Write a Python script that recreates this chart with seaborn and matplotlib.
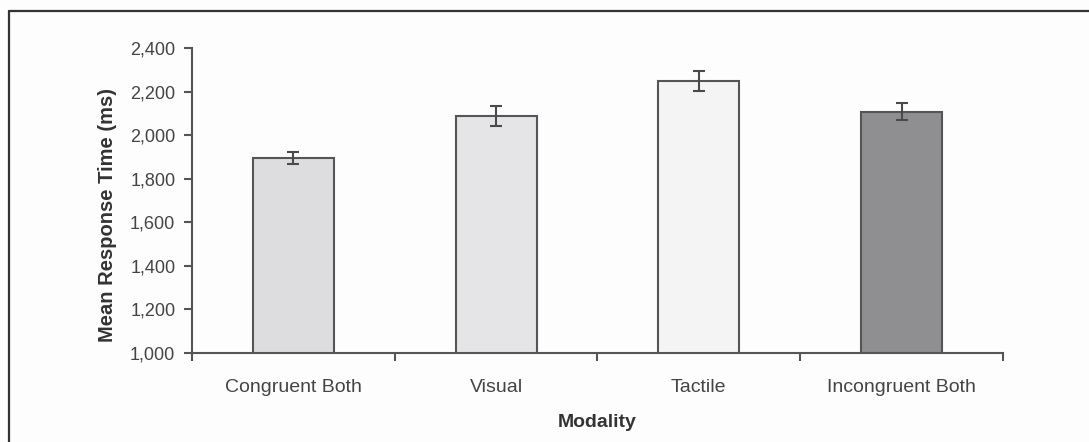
import matplotlib
matplotlib.use("Agg")
import matplotlib.pyplot as plt
import matplotlib.ticker as mticker
from matplotlib.lines import Line2D
import seaborn as sns
import pandas as pd

# ------------------------------------------------------------
# Data
# ------------------------------------------------------------
modalities = ["Congruent Both", "Visual", "Tactile", "Incongruent Both"]
mean_rt    = [1895, 2088, 2250, 2108]
sem_rt     = [27, 46, 46, 40]
bar_colors = ["#dcdde0", "#e5e5e7", "#f4f4f4", "#8e8f93"]

df = pd.DataFrame({"Modality": modalities, "RT": mean_rt})

sns.set_style("ticks")
plt.rcParams["font.family"] = ["Liberation Sans", "DejaVu Sans"]

DARK = "#4a4a4a"

fig = plt.figure(figsize=(10.89, 4.42), dpi=100, facecolor="#fdfdfd")
ax = fig.add_axes([0.1763, 0.2014, 0.921 - 0.1763, 0.891 - 0.2014])
ax.set_facecolor("#fdfdfd")

sns.barplot(
    data=df, x="Modality", y="RT", hue="Modality",
    order=modalities, palette=dict(zip(modalities, bar_colors)),
    errorbar=None, width=0.4, edgecolor="#555555", linewidth=1.5,
    legend=False, ax=ax,
)

ax.errorbar(
    range(len(modalities)), mean_rt, yerr=sem_rt,
    fmt="none", ecolor=DARK, elinewidth=1.5, capsize=4.5, capthick=1.5,
    zorder=5,
)

ax.set_ylim(1000, 2400)
ax.set_xlim(-0.5, len(modalities) - 0.5)
ax.yaxis.set_major_locator(mticker.MultipleLocator(200))
ax.yaxis.set_major_formatter(mticker.StrMethodFormatter("{x:,.0f}"))

# category labels without ticks, ticks sit on the category boundaries
ax.set_xticks(range(len(modalities)))
ax.set_xticklabels(modalities)
ax.set_xticks([i - 0.5 for i in range(len(modalities) + 1)], minor=True)
ax.tick_params(axis="x", which="major", length=0, pad=19,
               labelsize=14, labelcolor="#444444")
ax.tick_params(axis="x", which="minor", length=6, width=1.5,
               color="#555555", direction="out")
ax.tick_params(axis="y", which="major", length=6, width=1.5,
               color="#555555", labelsize=13, labelcolor="#444444", pad=6)

for side in ["top", "right"]:
    ax.spines[side].set_visible(False)
for side in ["left", "bottom"]:
    ax.spines[side].set_color("#555555")
    ax.spines[side].set_linewidth(1.5)

ax.set_xlabel("Modality", fontsize=14, fontweight="bold",
              color="#333333", labelpad=13)
ax.set_ylabel("Mean Response Time (ms)", fontsize=14.5, fontweight="bold",
              color="#333333")
ax.yaxis.set_label_coords(-0.0925, 0.452)

# frame line along the top and left of the panel
fig.add_artist(Line2D([9 / 1089, 1.0], [1 - 11 / 442] * 2,
                      color="#333333", linewidth=1.6))
fig.add_artist(Line2D([9 / 1089] * 2, [0.0, 1 - 11 / 442],
                      color="#333333", linewidth=1.6))

fig.savefig("out.png", dpi=100, facecolor=fig.get_facecolor())
